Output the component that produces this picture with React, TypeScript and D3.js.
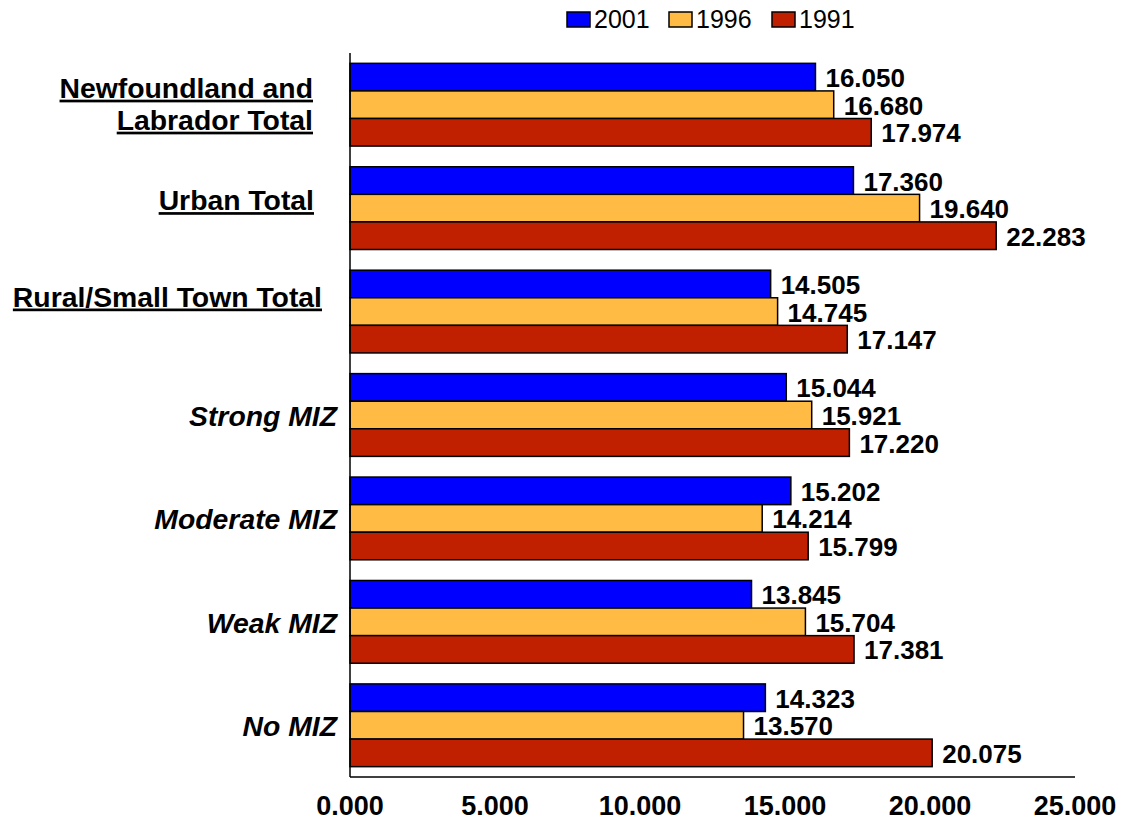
import React from "react";
import * as d3 from "d3";

// Average values by region type and census year
const categories = [
  "Newfoundland and Labrador Total",
  "Urban Total",
  "Rural/Small Town Total",
  "Strong MIZ",
  "Moderate MIZ",
  "Weak MIZ",
  "No MIZ",
];
const years = ["2001", "1996", "1991"];
const values2001 = [16.05, 17.36, 14.505, 15.044, 15.202, 13.845, 14.323];
const values1996 = [16.68, 19.64, 14.745, 15.921, 14.214, 15.704, 13.57];
const values1991 = [17.974, 22.283, 17.147, 17.22, 15.799, 17.381, 20.075];
const xTicks = [0, 5, 10, 15, 20, 25];

const colors: Record<string, string> = {
  "2001": "#0000FF",
  "1996": "#FFBB44",
  "1991": "#C02000",
};

// Category label styling: totals are bold + underlined, MIZ zones are bold italic
const labelSpec: Record<
  string,
  { lines: string[]; right: number; dy: number[]; italic: boolean }
> = {
  "Newfoundland and Labrador Total": {
    lines: ["Newfoundland and", "Labrador Total"],
    right: 313,
    dy: [-7, 25],
    italic: false,
  },
  "Urban Total": { lines: ["Urban Total"], right: 314, dy: [2], italic: false },
  "Rural/Small Town Total": {
    lines: ["Rural/Small Town Total"],
    right: 322,
    dy: [-5], italic: false,
  },
  "Strong MIZ": { lines: ["Strong MIZ"], right: 337, dy: [11], italic: true },
  "Moderate MIZ": { lines: ["Moderate MIZ"], right: 337, dy: [11], italic: true },
  "Weak MIZ": { lines: ["Weak MIZ"], right: 337, dy: [11], italic: true },
  "No MIZ": { lines: ["No MIZ"], right: 337, dy: [11], italic: true },
};

const FONT = "Arial, 'Liberation Sans', Helvetica, sans-serif";

export default function App() {
  const width = 1121;
  const height = 822;
  const plotLeft = 350;
  const plotRight = 1075;
  const plotTop = 53;
  const plotBottom = 777;

  const x = d3.scaleLinear().domain([0, 25]).range([plotLeft, plotRight]);
  const y = d3
    .scaleBand<string>()
    .domain(categories)
    .range([plotTop, plotBottom])
    .paddingInner(0.2)
    .paddingOuter(0.1);
  const ySeries = d3
    .scaleBand<string>()
    .domain(years)
    .range([0, y.bandwidth()]);

  const seriesValues: Record<string, number[]> = {
    "2001": values2001,
    "1996": values1996,
    "1991": values1991,
  };
  const fmt = d3.format(".3f");

  const legendItems = [
    { year: "2001", x: 567 },
    { year: "1996", x: 669 },
    { year: "1991", x: 772 },
  ];

  return (
    <svg
      width={width}
      height={height}
      style={{ position: "absolute", left: 0, top: 0, background: "#fff" }}
      fontFamily={FONT}
    >
      {/* legend */}
      {legendItems.map((it) => (
        <g key={it.year}>
          <rect
            x={it.x}
            y={12}
            width={23}
            height={15}
            fill={colors[it.year]}
            stroke="#000"
            strokeWidth={1.5}
          />
          <text x={it.x + 27} y={28} fontSize={25} fill="#000">
            {it.year}
          </text>
        </g>
      ))}

      {/* bars */}
      {categories.map((c, i) => (
        <g key={c} transform={`translate(0,${y(c)})`}>
          {years.map((yr) => {
            const v = seriesValues[yr][i];
            const by = ySeries(yr)!;
            const bh = ySeries.bandwidth();
            return (
              <g key={yr}>
                <rect
                  x={x(0)}
                  y={by}
                  width={x(v) - x(0)}
                  height={bh}
                  fill={colors[yr]}
                  stroke="#000"
                  strokeWidth={1.5}
                />
                <text
                  x={x(v) + 10}
                  y={by + bh / 2 + 10}
                  fontSize={26}
                  fontWeight="bold"
                  fill="#000"
                >
                  {fmt(v)}
                </text>
              </g>
            );
          })}
        </g>
      ))}

      {/* axes */}
      <line
        x1={plotLeft}
        x2={plotLeft}
        y1={plotTop}
        y2={plotBottom}
        stroke="#000"
        strokeWidth={1.5}
      />
      <line
        x1={plotLeft}
        x2={plotRight}
        y1={plotBottom}
        y2={plotBottom}
        stroke="#000"
        strokeWidth={1.5}
      />
      {xTicks.map((t) => (
        <text
          key={t}
          x={x(t)}
          y={815}
          fontSize={27}
          fontWeight="bold"
          textAnchor="middle"
          fill="#000"
        >
          {fmt(t)}
        </text>
      ))}

      {/* category labels, slightly widened */}
      {categories.map((c) => {
        const spec = labelSpec[c];
        const cy = y(c)! + y.bandwidth() / 2;
        return (
          <g key={c}>
            {spec.lines.map((ln, k) => (
              <text
                key={k}
                transform={`translate(${spec.right},${cy + spec.dy[k]}) scale(1.05,1)`}
                fontSize={27}
                fontWeight="bold"
                fontStyle={spec.italic ? "italic" : "normal"}
                textDecoration={spec.italic ? "none" : "underline"}
                textAnchor="end"
                fill="#000"
              >
                {ln}
              </text>
            ))}
          </g>
        );
      })}
    </svg>
  );
}
